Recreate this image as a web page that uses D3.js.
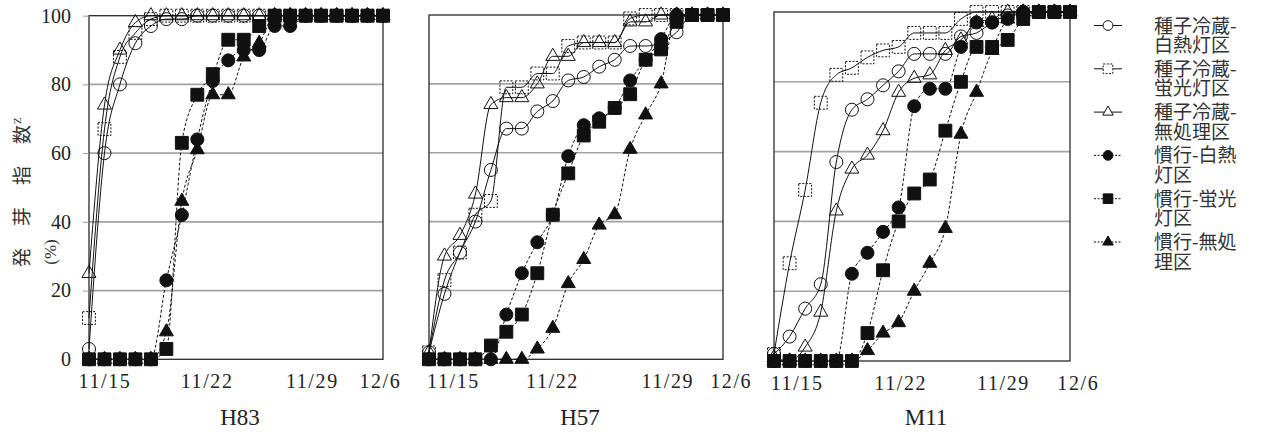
<!DOCTYPE html>
<html>
<head>
<meta charset="utf-8">
<script src="https://cdn.jsdelivr.net/npm/d3@7"></script>
<style>
  body { margin: 0; background: #fff; }
  svg { display: block; }
</style>
</head>
<body>
<svg id="chart" width="1265" height="434"></svg>
<script>
const SERIF = '"Liberation Serif", "DejaVu Serif", serif';
const JP = '"Noto Sans CJK JP", sans-serif';

// day index 0..19 (one point per day)
const days = d3.range(20);

const legendLines = [
  ["種子冷蔵-", "白熱灯区"],
  ["種子冷蔵-", "蛍光灯区"],
  ["種子冷蔵-", "無処理区"],
  ["慣行-白熱", "灯区"],
  ["慣行-蛍光", "灯区"],
  ["慣行-無処", "理区"]
];
const xTickLabels = ["11/15", "11/22", "11/29", "12/6"];
const yTicks = [0, 20, 40, 60, 80, 100];

// series order: 冷蔵白熱, 冷蔵蛍光, 冷蔵無処理, 慣行白熱, 慣行蛍光, 慣行無処理
const h83 = [
  [3, 60, 80, 92, 97, 99, 99, 100, 100, 100, 100, 100, 100, 100, 100, 100, 100, 100, 100, 100],
  [12, 67, 88, 95, 99, 100, 100, 100, 100, 100, 100, 100, 100, 100, 100, 100, 100, 100, 100, 100],
  [25, 74, 90, 98, 100, 100, 100, 100, 100, 100, 100, 100, 100, 100, 100, 100, 100, 100, 100, 100],
  [0, 0, 0, 0, 0, 23, 42, 64, 81, 87, 90, 90, 97, 97, 100, 100, 100, 100, 100, 100],
  [0, 0, 0, 0, 0, 3, 63, 77, 83, 93, 93, 97, 100, 100, 100, 100, 100, 100, 100, 100],
  [0, 0, 0, 0, 0, 8, 46, 61, 77, 77, 88, 92, 100, 100, 100, 100, 100, 100, 100, 100]
];
const h57 = [
  [2, 19, 31, 40, 55, 67, 67, 72, 75, 81, 82, 85, 87, 91, 91, 92, 95, 100, 100, 100],
  [2, 23, 31, 42, 46, 79, 79, 83, 83, 91, 92, 92, 92, 99, 100, 100, 100, 100, 100, 100],
  [2, 30, 36, 48, 74, 76, 76, 80, 88, 88, 92, 92, 92, 98, 98, 100, 100, 100, 100, 100],
  [0, 0, 0, 0, 0, 13, 25, 34, 42, 59, 68, 70, 73, 81, 87, 93, 100, 100, 100, 100],
  [0, 0, 0, 0, 4, 8, 13, 25, 42, 54, 65, 69, 73, 77, 87, 90, 98, 100, 100, 100],
  [0, 0, 0, 0, 0, 0, 0, 3, 9, 22, 29, 39, 42, 61, 71, 80, 100, 100, 100, 100]
];
const m11 = [
  [2, 7, 15, 22, 57, 72, 75, 79, 83, 88, 88, 88, 93, 94, 97, 99, 100, 100, 100, 100],
  [2, 28, 49, 74, 82, 84, 87, 89, 90, 94, 94, 94, 98, 100, 100, 100, 100, 100, 100, 100],
  [1, 0, 4, 14, 43, 55, 59, 66, 77, 81, 82, 89, 92, 97, 98, 100, 100, 100, 100, 100],
  [0, 0, 0, 0, 0, 25, 31, 37, 44, 73, 78, 78, 90, 97, 97, 98, 100, 100, 100, 100],
  [0, 0, 0, 0, 0, 0, 8, 26, 40, 48, 52, 66, 80, 90, 90, 92, 98, 100, 100, 100],
  [0, 0, 0, 0, 0, 0, 3, 8, 11, 20, 28, 38, 65, 77, 89, 98, 100, 100, 100, 100]
];
// tick label positions on the day-index axis
const h83TickAt = [1, 7.6, 14.4, 18.8];
const h57TickAt = [1.55, 7.95, 15.4, 19.5];
const m11TickAt = [1.45, 8.1, 14.7, 19.5];

const panels = [
  { name: "H83", values: h83, tickAt: h83TickAt, left: 89, right: 383, top: 15.7, bottom: 359.3, yLabels: true },
  { name: "H57", values: h57, tickAt: h57TickAt, left: 429, right: 723, top: 15, bottom: 359.3, yLabels: false },
  { name: "M11", values: m11, tickAt: m11TickAt, left: 774, right: 1070, top: 12, bottom: 361, yLabels: false }
];

const styles = [
  { shape: "circle", filled: false, dash: null },
  { shape: "square", filled: false, dash: null },
  { shape: "triangle", filled: false, dash: null },
  { shape: "circle", filled: true, dash: "3,2" },
  { shape: "square", filled: true, dash: "3,2" },
  { shape: "triangle", filled: true, dash: "3,2" }
];
const drawOrder = [0, 1, 2, 3, 5, 4];

const svg = d3.select("#chart");

function symbolFor(shape, scale = 1) {
  if (shape === "circle") return d3.symbol(d3.symbolCircle, 133 * scale * scale);
  if (shape === "square") return d3.symbol(d3.symbolSquare, 165 * scale * scale);
  return d3.symbol(d3.symbolTriangle, 85 * scale * scale);
}

function styleMarker(sel, st) {
  sel.attr("fill", st.filled ? "#111" : "none")
    .attr("stroke", "#111")
    .attr("stroke-width", 1)
    .attr("stroke-dasharray", (!st.filled && st.shape === "square") ? "2,1.5" : null);
}

panels.forEach(p => {
  const x = d3.scaleLinear().domain([0, 19]).range([p.left, p.right]);
  const y = d3.scaleLinear().domain([0, 100]).range([p.bottom, p.top]);
  const g = svg.append("g");

  // grid
  g.append("g").selectAll("line").data(yTicks.filter(t => t > 0 && t < 100)).join("line")
    .attr("x1", p.left).attr("x2", p.right)
    .attr("y1", d => y(d)).attr("y2", d => y(d))
    .attr("stroke", "#a3a3a3").attr("stroke-width", 1.6);

  // frame
  g.append("rect")
    .attr("x", p.left).attr("y", y(100))
    .attr("width", p.right - p.left).attr("height", y(0) - y(100))
    .attr("fill", "none").attr("stroke", "#2a2a2a").attr("stroke-width", 1.3);

  if (p.yLabels) {
    const yAxis = d3.axisLeft(y).tickValues(yTicks).tickSize(6).tickPadding(12);
    const ax = g.append("g").attr("transform", `translate(${p.left},0)`).call(yAxis);
    ax.select(".domain").remove();
    ax.selectAll(".tick line").attr("stroke", "#999");
    ax.selectAll(".tick text").style("font-size", "20px").style("font-family", SERIF).attr("fill", "#222");
  }

  // x labels
  const xAxis = d3.axisBottom(x).tickValues(p.tickAt)
    .tickFormat((d, i) => xTickLabels[i]).tickSize(0).tickPadding(15);
  const xa = g.append("g").attr("transform", `translate(0,${p.bottom})`).call(xAxis);
  xa.select(".domain").remove();
  xa.selectAll(".tick text").style("font-size", "20px").style("font-family", SERIF)
    .style("letter-spacing", "1.6px").attr("fill", "#222");

  g.append("text")
    .attr("x", (p.left + p.right) / 2 + 4).attr("y", 425)
    .attr("text-anchor", "middle")
    .style("font-size", "23px").style("font-family", SERIF).attr("fill", "#222")
    .text(p.name);

  const line = d3.line().x((d, i) => x(days[i])).y(d => y(d)).curve(d3.curveMonotoneX);

  drawOrder.forEach(si => {
    const st = styles[si];
    const vals = p.values[si];
    g.append("path").datum(vals)
      .attr("d", line)
      .attr("fill", "none").attr("stroke", "#111").attr("stroke-width", 1)
      .attr("stroke-dasharray", st.dash);
    g.append("g").selectAll("path").data(vals).join("path")
      .attr("transform", (d, i) => `translate(${x(days[i])},${y(d)})`)
      .attr("d", symbolFor(st.shape))
      .call(styleMarker, st);
  });
});

// y axis title
const yTitle = svg.append("text")
  .attr("transform", "translate(29,267) rotate(-90)")
  .attr("text-anchor", "start")
  .style("font-family", JP).style("font-size", "19px").attr("fill", "#333");
yTitle.append("tspan").style("letter-spacing", "22px").text("発芽指");
yTitle.append("tspan").text("数");
yTitle.append("tspan").attr("dy", -8).attr("dx", 1)
  .style("font-size", "11px").style("font-family", SERIF).text("Z");
svg.append("text")
  .attr("transform", "translate(56,252) rotate(-90)")
  .attr("text-anchor", "middle")
  .style("font-family", SERIF).style("font-size", "17px").attr("fill", "#333")
  .text("(%)");

// legend
const legend = svg.append("g");
const legendY = d3.scaleLinear().domain([0, 5]).range([25.5, 242]);
legendLines.forEach((lines, i) => {
  const st = styles[i];
  const cy = legendY(i);
  legend.append("line")
    .attr("x1", 1094).attr("x2", 1122).attr("y1", cy).attr("y2", cy)
    .attr("stroke", "#111").attr("stroke-width", 1)
    .attr("stroke-dasharray", st.dash ? "2,1.5" : null);
  legend.append("path")
    .attr("transform", `translate(1108,${cy})`)
    .attr("d", symbolFor(st.shape, 0.75))
    .call(styleMarker, st)
    .attr("fill", st.filled ? "#111" : "#fff");
  const t = legend.append("text")
    .attr("x", 1154).attr("y", cy + 7)
    .style("font-family", JP).style("font-size", "19px").attr("fill", "#333");
  lines.forEach((s, j) => {
    t.append("tspan").attr("x", 1154).attr("dy", j === 0 ? 0 : 19.5).text(s);
  });
});
</script>
</body>
</html>
